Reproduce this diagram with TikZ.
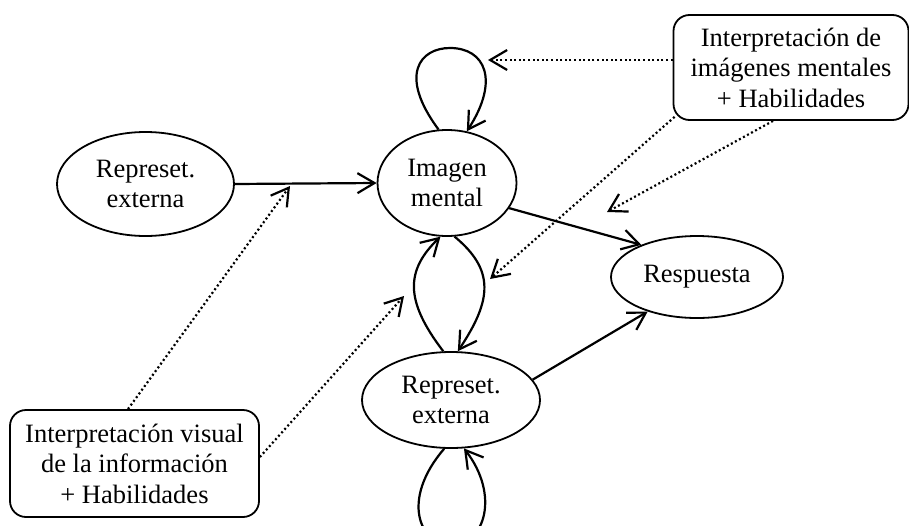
\documentclass[tikz,border=0pt]{standalone}
\usepackage{fontspec}
\setmainfont{Liberation Serif}
\usetikzlibrary{shapes.geometric,arrows.meta}
\tikzset{
  ell/.style={draw, ellipse, line width=1.8pt, inner sep=0pt, align=center},
  rbox/.style={draw, rounded corners=16pt, line width=1.8pt, inner sep=0pt, align=center},
  conn/.style={line width=2.2pt, -{Straight Barb[length=17pt,width=20pt,line width=2.2pt]}},
  dotconn/.style={line width=2.2pt, dash pattern=on 2pt off 2.6pt, -{Straight Barb[length=17pt,width=20pt,line width=2.2pt]}},
  txt/.style={font=\fontsize{26.5}{30.5}\selectfont}
}
\begin{document}
\begin{tikzpicture}[x=1pt,y=-1pt]
\clip (0,0) rectangle (909,525);
\fill[white] (0,0) rectangle (909,525);
\node[ell,txt,minimum width=177pt,minimum height=104pt] (re1) at (145.5,184) {Represet.\\externa};
\node[ell,txt,minimum width=139pt,minimum height=106pt] (img) at (447,183) {Imagen\\mental};
\node[ell,txt,minimum width=172pt,minimum height=82pt] (resp) at (697,277) {Respuesta};
\node[ell,txt,minimum width=178pt,minimum height=96pt] (re2) at (451,400) {Represet.\\externa};
\node[rbox,txt,minimum width=235pt,minimum height=105pt] (tr) at (791,67.5) {Interpretación de\\imágenes mentales\\+ Habilidades};
\node[rbox,txt,minimum width=249pt,minimum height=107pt] (bl) at (134.5,463.5) {Interpretación visual\\de la información\\+ Habilidades};

\draw[conn] (re1.east) -- (img.west);
\draw[conn] (img.-22) -- (resp.150);
\draw[conn] (re2.14) -- (resp.215);
% self loops
\draw[conn] (img.99) .. controls (398,75) and (420,48) .. (450,48) .. controls (485,48) and (500,80) .. (img.69);
\draw[conn] (re2.-98) .. controls (400,500) and (420,545) .. (451,545) .. controls (485,545) and (500,495) .. (re2.-75);
% between img and re2
\draw[conn] (re2.99) .. controls (404,300) and (406,270) .. (img.-97);
\draw[conn] (img.-82) .. controls (495,270) and (492,300) .. (re2.82);
% dotted
\coordinate (t1) at (488,60);
\draw[dotconn] (tr.west |- t1) -- (t1);
\coordinate (t2) at (607,212);
\draw[dotconn] (tr.south -| 773,0) -- (t2);
\coordinate (t3) at (490,279);
\draw[dotconn] (tr.south west) ++(2,-4) -- (t3);
\coordinate (t4) at (290,186);
\draw[dotconn] (bl.north -| 128,0) -- (t4);
\coordinate (t5) at (404,296);
\draw[dotconn] (bl.east |- 0,457) -- (t5);
\end{tikzpicture}
\end{document}
